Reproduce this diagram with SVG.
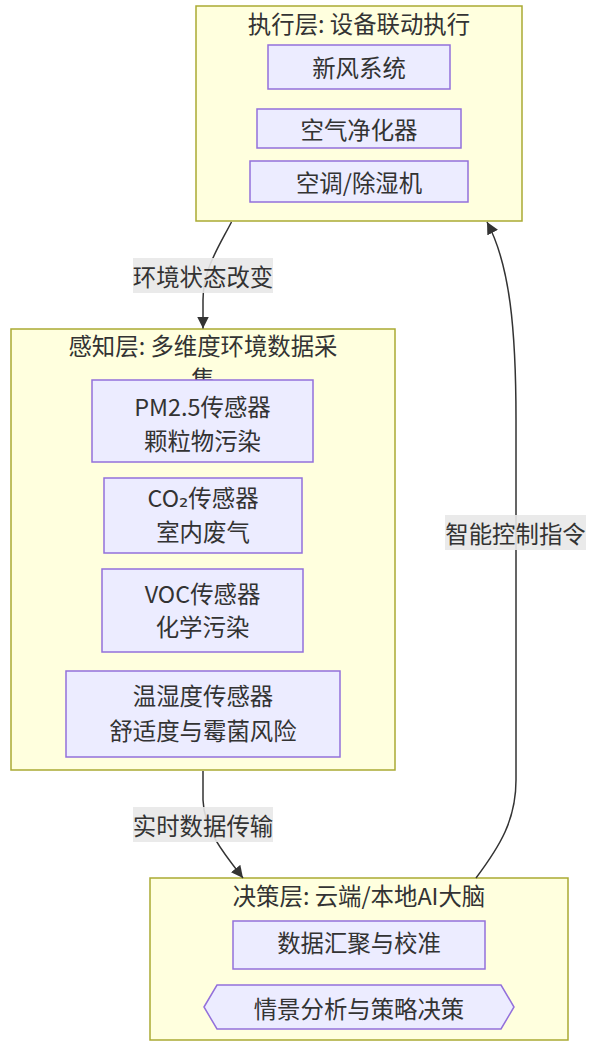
<svg xmlns="http://www.w3.org/2000/svg" width="608" height="1055" viewBox="0 0 608 1055">
<style>
text{font-family:"Noto Sans CJK SC","DejaVu Sans",sans-serif;font-size:23.4px;fill:#333;text-anchor:middle;dominant-baseline:central}
.cluster{fill:#ffffde;stroke:#aaaa33;stroke-width:1.5}
.node{fill:#ECECFF;stroke:#9370DB;stroke-width:1.5}
.edge{fill:none;stroke:#333;stroke-width:1.5}
.lbl{fill:#e8e8e8;fill-opacity:0.9}
</style>
<defs>
<marker id="arrow" viewBox="0 0 12 12" refX="12" refY="6" markerWidth="12" markerHeight="12" markerUnits="userSpaceOnUse" orient="auto">
<path d="M0,0 L12,6 L0,12 z" fill="#333"/>
</marker>
</defs>
<rect width="608" height="1055" fill="#fff"/>
<g id="cluster-exec">
<rect class="cluster" x="196" y="6" width="326" height="215"/>
<text x="359" y="22.5">执行层: 设备联动执行</text>
</g>
<g id="cluster-sense">
<rect class="cluster" x="11" y="329" width="384" height="441"/>
<text x="203" y="345">感知层: 多维度环境数据采</text>
<text x="203" y="378">集</text>
</g>
<g id="cluster-decide">
<rect class="cluster" x="150" y="878" width="418" height="162"/>
<text x="359" y="895">决策层: 云端/本地AI大脑</text>
</g>
<g id="connectors">
<path class="edge" d="M231.5,222 C218,248 203,270 203,300 L203,328.5" marker-end="url(#arrow)"/>
<path class="edge" d="M203,771 L203,800 C204,830 225,855 243,878" marker-end="url(#arrow)"/>
<path class="edge" d="M476,878 C500,846 516,820 516,780 L516,420 C516,330 510,265 487,222" marker-end="url(#arrow)"/>
<rect class="lbl" x="133" y="258" width="140" height="35"/>
<text x="203" y="275.5">环境状态改变</text>
<rect class="lbl" x="133" y="807" width="140" height="35"/>
<text x="203" y="824.5">实时数据传输</text>
<rect class="lbl" x="445" y="515" width="141" height="35"/>
<text x="515.5" y="532.5">智能控制指令</text>
</g>
<g id="node-fresh-air">
<rect class="node" x="268" y="45" width="182" height="44"/>
<text x="359" y="67">新风系统</text>
</g>
<g id="node-purifier">
<rect class="node" x="257" y="109" width="204" height="39"/>
<text x="359" y="128.5">空气净化器</text>
</g>
<g id="node-ac">
<rect class="node" x="250" y="161" width="218" height="41"/>
<text x="359" y="182">空调/除湿机</text>
</g>
<g id="node-pm25">
<rect class="node" x="92" y="380" width="221" height="82"/>
<text x="202.5" y="405.5">PM2.5传感器</text>
<text x="202.5" y="439.5">颗粒物污染</text>
</g>
<g id="node-co2">
<rect class="node" x="104" y="478" width="198" height="75"/>
<text x="203" y="497">CO₂传感器</text>
<text x="203" y="531">室内废气</text>
</g>
<g id="node-voc">
<rect class="node" x="102" y="569" width="201" height="83"/>
<text x="202.5" y="592.5">VOC传感器</text>
<text x="202.5" y="626">化学污染</text>
</g>
<g id="node-temp">
<rect class="node" x="66" y="671" width="274" height="86"/>
<text x="203" y="694.5">温湿度传感器</text>
<text x="203" y="729.5">舒适度与霉菌风险</text>
</g>
<g id="node-aggregate">
<rect class="node" x="233" y="921" width="252" height="48"/>
<text x="359" y="942">数据汇聚与校准</text>
</g>
<g id="node-decide">
<polygon class="node" points="204,1007 217,985 501,985 514,1007 501,1029 217,1029"/>
<text x="359" y="1007.5">情景分析与策略决策</text>
</g>
</svg>
